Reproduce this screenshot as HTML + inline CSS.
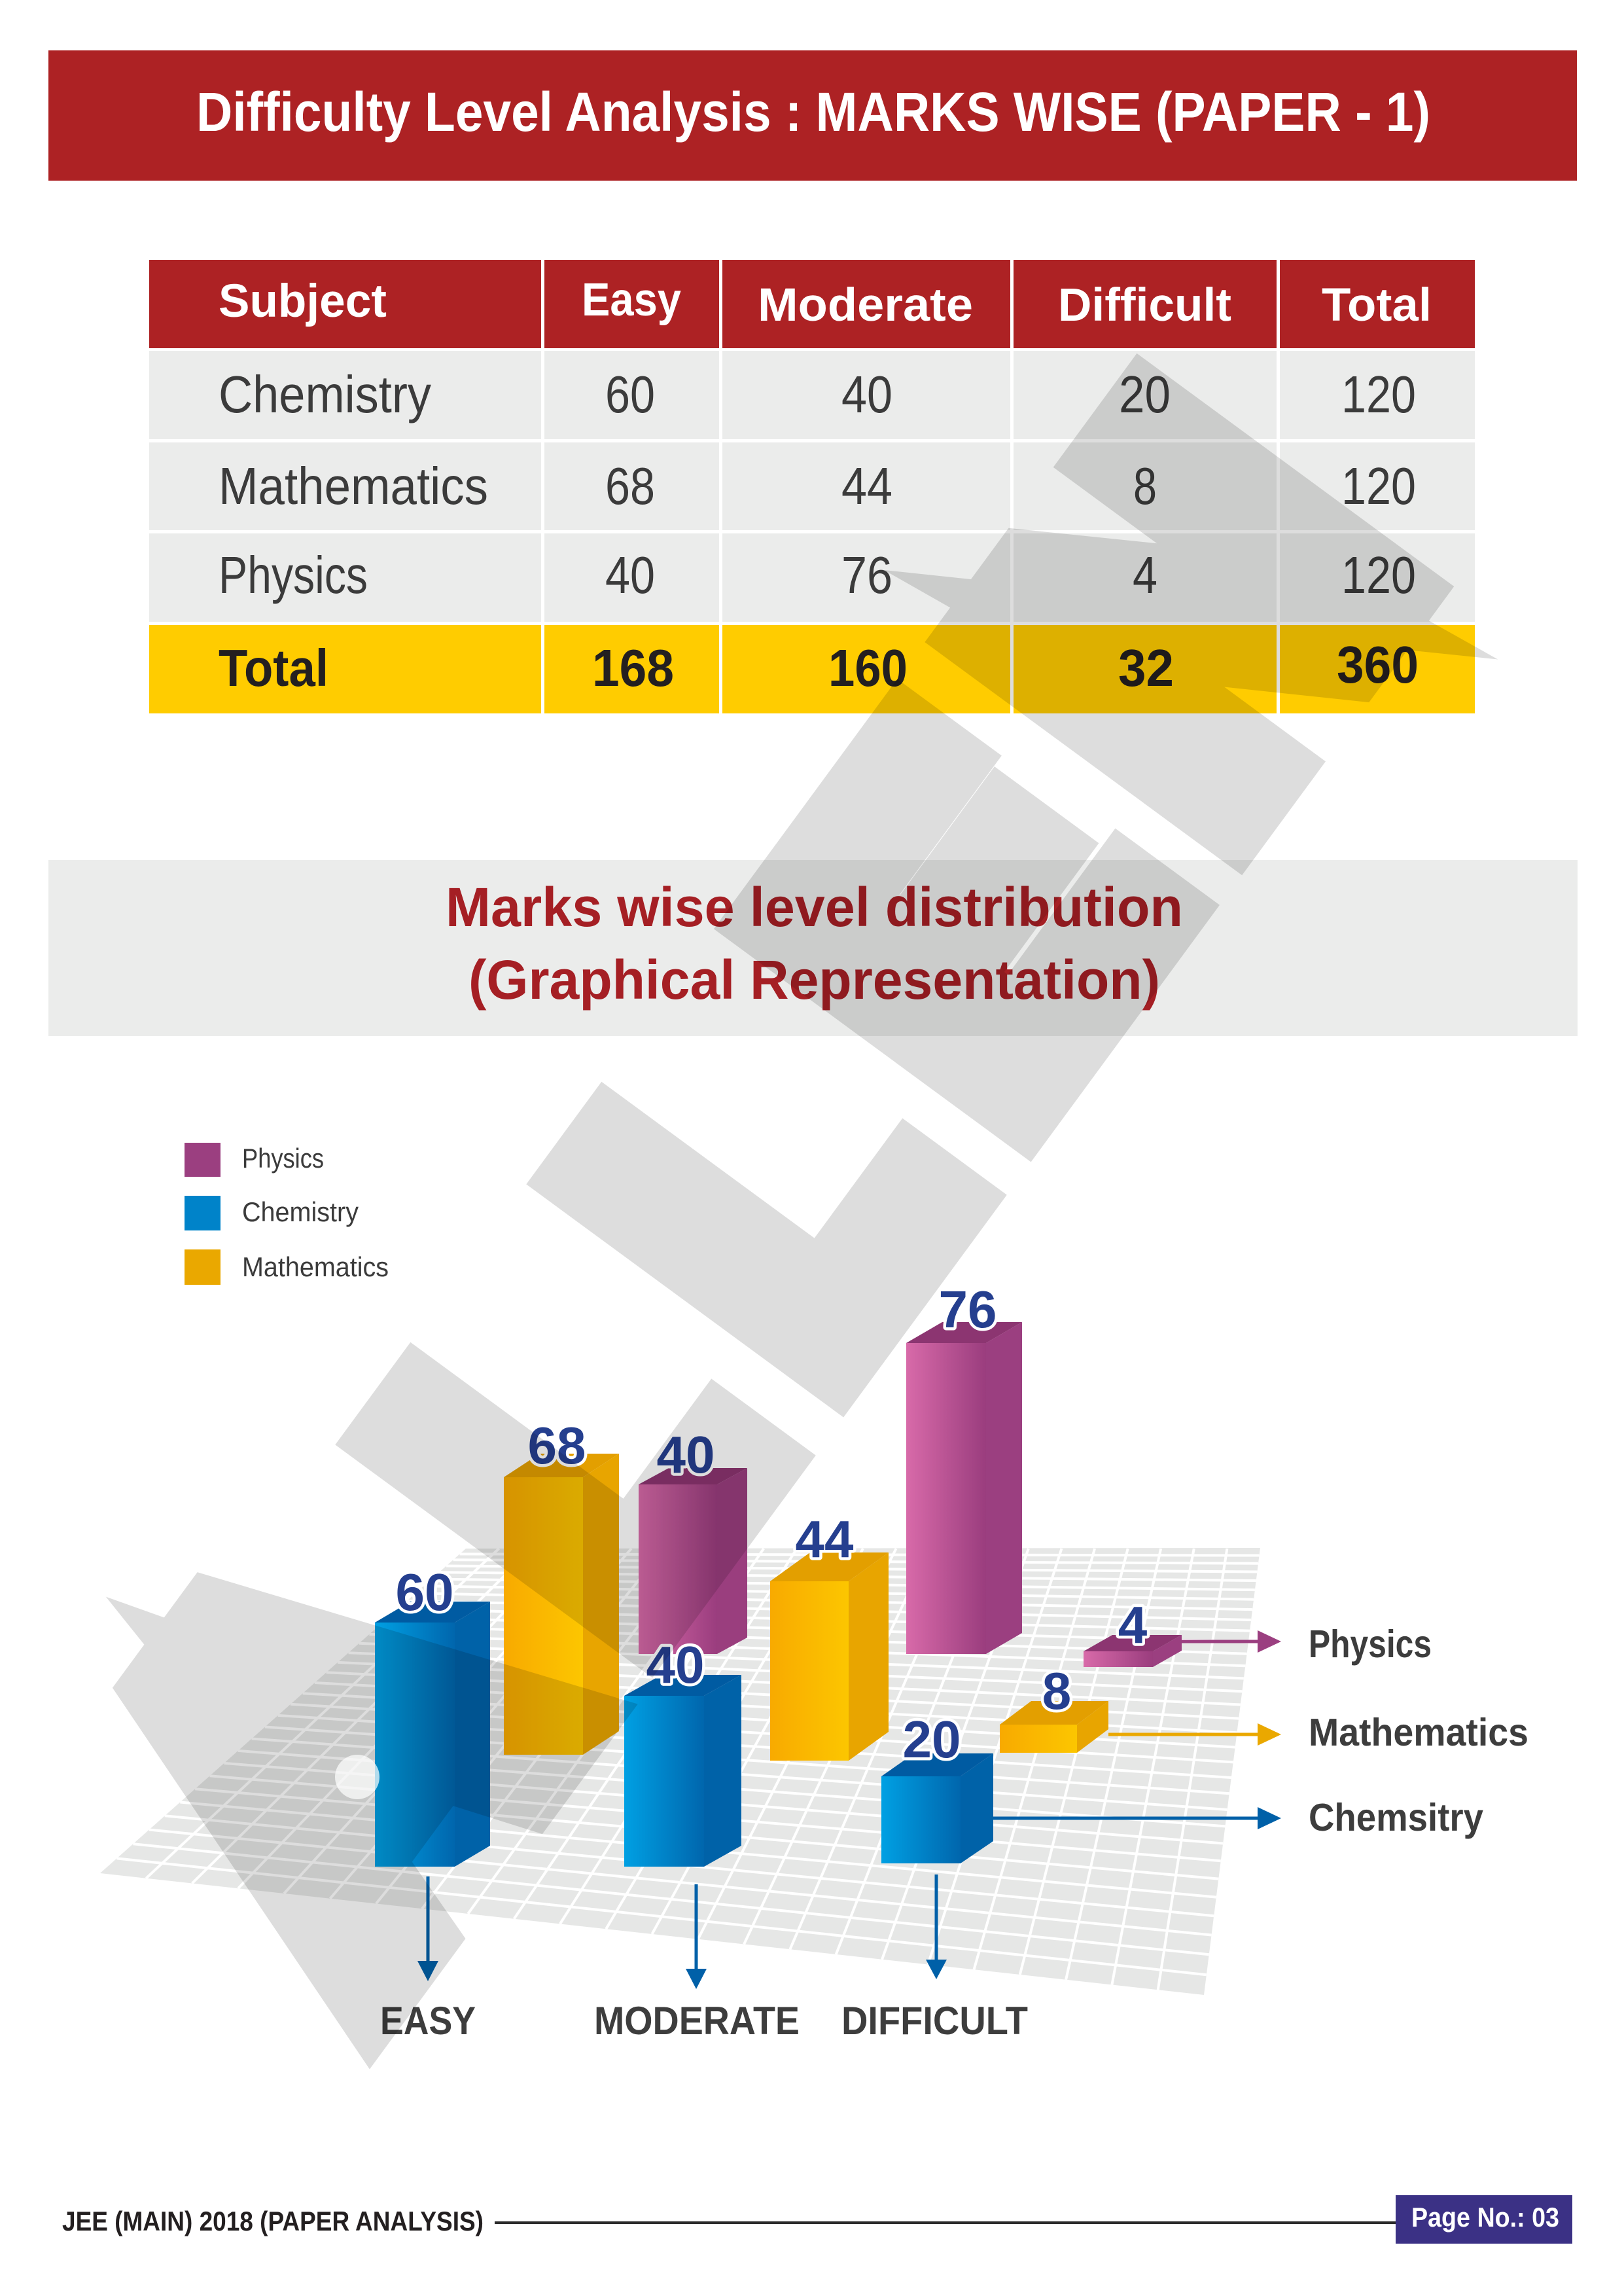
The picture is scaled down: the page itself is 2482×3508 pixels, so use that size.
<!DOCTYPE html>
<html><head><meta charset="utf-8"><style>
html,body{margin:0;padding:0;background:#fff;}
svg{display:block;}
text{font-family:"Liberation Sans",Arial,sans-serif;}
</style></head><body>
<svg width="2482" height="3508" viewBox="0 0 2482 3508" xmlns="http://www.w3.org/2000/svg">
<defs>
<linearGradient id="bF" x1="0" y1="0" x2="1" y2="0"><stop offset="0" stop-color="#00a0e3"/><stop offset="1" stop-color="#0066ad"/></linearGradient>
<linearGradient id="yF" x1="0" y1="0" x2="1" y2="0"><stop offset="0" stop-color="#f8aa00"/><stop offset="1" stop-color="#fcc600"/></linearGradient>
<linearGradient id="pF" x1="0" y1="0" x2="1" y2="0"><stop offset="0" stop-color="#d86aa9"/><stop offset="1" stop-color="#9a3d7e"/></linearGradient>
</defs>
<rect width="2482" height="3508" fill="#fff"/>

<!-- Title bar -->
<rect x="74" y="77" width="2336" height="199" fill="#ad2224"/>
<text x="300" y="200" font-size="84" font-weight="bold" fill="#fff" textLength="1886" lengthAdjust="spacingAndGlyphs">Difficulty Level Analysis :  MARKS WISE (PAPER - 1)</text>

<!-- Table -->
<rect x="228" y="397" width="2026" height="135" fill="#ad2224"/>
<rect x="228" y="536" width="2026" height="135" fill="#ebeceb"/>
<rect x="228" y="676" width="2026" height="134" fill="#ebeceb"/>
<rect x="228" y="815" width="2026" height="135" fill="#ebeceb"/>
<rect x="228" y="955" width="2026" height="135" fill="#ffcc00"/>
<g fill="#fff">
<rect x="827" y="397" width="5" height="693"/>
<rect x="1099" y="397" width="5" height="693"/>
<rect x="1544" y="397" width="5" height="693"/>
<rect x="1951" y="397" width="5" height="693"/>
</g>
<g font-size="71" font-weight="bold" fill="#fff">
<text x="334" y="484" textLength="257" lengthAdjust="spacingAndGlyphs">Subject</text>
<text x="889" y="482" textLength="152" lengthAdjust="spacingAndGlyphs">Easy</text>
<text x="1158" y="490" textLength="329" lengthAdjust="spacingAndGlyphs">Moderate</text>
<text x="1617" y="490" textLength="265" lengthAdjust="spacingAndGlyphs">Difficult</text>
<text x="2020" y="490" textLength="168" lengthAdjust="spacingAndGlyphs">Total</text>
</g>
<g font-size="80" fill="#3b3b3b">
<text x="334" y="630" textLength="325" lengthAdjust="spacingAndGlyphs">Chemistry</text>
<text x="925" y="630" textLength="76" lengthAdjust="spacingAndGlyphs">60</text>
<text x="1286" y="630" textLength="78" lengthAdjust="spacingAndGlyphs">40</text>
<text x="1710" y="630" textLength="79" lengthAdjust="spacingAndGlyphs">20</text>
<text x="2050" y="630" textLength="114" lengthAdjust="spacingAndGlyphs">120</text>

<text x="334" y="770" textLength="412" lengthAdjust="spacingAndGlyphs">Mathematics</text>
<text x="925" y="770" textLength="76" lengthAdjust="spacingAndGlyphs">68</text>
<text x="1286" y="770" textLength="78" lengthAdjust="spacingAndGlyphs">44</text>
<text x="1732" y="770" textLength="36" lengthAdjust="spacingAndGlyphs">8</text>
<text x="2050" y="770" textLength="114" lengthAdjust="spacingAndGlyphs">120</text>

<text x="334" y="906" textLength="228" lengthAdjust="spacingAndGlyphs">Physics</text>
<text x="925" y="906" textLength="76" lengthAdjust="spacingAndGlyphs">40</text>
<text x="1286" y="906" textLength="78" lengthAdjust="spacingAndGlyphs">76</text>
<text x="1731" y="906" textLength="38" lengthAdjust="spacingAndGlyphs">4</text>
<text x="2050" y="906" textLength="114" lengthAdjust="spacingAndGlyphs">120</text>
</g>
<g font-size="80" font-weight="bold" fill="#231f20">
<text x="334" y="1048" textLength="168" lengthAdjust="spacingAndGlyphs">Total</text>
<text x="905" y="1048" textLength="125" lengthAdjust="spacingAndGlyphs">168</text>
<text x="1266" y="1048" textLength="121" lengthAdjust="spacingAndGlyphs">160</text>
<text x="1709" y="1048" textLength="85" lengthAdjust="spacingAndGlyphs">32</text>
<text x="2043" y="1043" textLength="125" lengthAdjust="spacingAndGlyphs">360</text>
</g>

<!-- Chart title panel -->
<rect x="74" y="1314" width="2337" height="269" fill="#ebeceb"/>
<g font-size="84" font-weight="bold" fill="#a51f24">
<text x="681" y="1415" textLength="1127" lengthAdjust="spacingAndGlyphs">Marks wise level distribution</text>
<text x="716" y="1526" textLength="1057" lengthAdjust="spacingAndGlyphs">(Graphical Representation)</text>
</g>

<!-- Legend -->
<rect x="282" y="1746" width="55" height="52" fill="#9b3f80"/>
<rect x="282" y="1827" width="55" height="53" fill="#0083c9"/>
<rect x="282" y="1909" width="55" height="54" fill="#eaa800"/>
<g font-size="42" fill="#3b3b3b">
<text x="370" y="1784" textLength="125" lengthAdjust="spacingAndGlyphs">Physics</text>
<text x="370" y="1866" textLength="178" lengthAdjust="spacingAndGlyphs">Chemistry</text>
<text x="370" y="1950" textLength="224" lengthAdjust="spacingAndGlyphs">Mathematics</text>
</g>

<!-- Floor grid -->
<polygon points="712,2366 1926,2365 1840,3048 153,2862" fill="#e6e7e6"/>
<g stroke="#fff" stroke-width="4" fill="none">
<line x1="702.6" y1="2374.4" x2="1924.5" y2="2376.5"/>
<line x1="692.6" y1="2383.2" x2="1923" y2="2388.7"/>
<line x1="682.1" y1="2392.5" x2="1921.4" y2="2401.5"/>
<line x1="671.1" y1="2402.3" x2="1919.7" y2="2415"/>
<line x1="659.6" y1="2412.5" x2="1917.9" y2="2429.1"/>
<line x1="647.5" y1="2423.2" x2="1916.1" y2="2443.7"/>
<line x1="635" y1="2434.3" x2="1914.2" y2="2459.1"/>
<line x1="621.9" y1="2445.9" x2="1912.1" y2="2475"/>
<line x1="608.4" y1="2458" x2="1910.1" y2="2491.6"/>
<line x1="594.2" y1="2470.5" x2="1907.9" y2="2508.9"/>
<line x1="579.6" y1="2483.5" x2="1905.6" y2="2526.7"/>
<line x1="564.5" y1="2496.9" x2="1903.3" y2="2545.2"/>
<line x1="548.8" y1="2510.8" x2="1900.9" y2="2564.4"/>
<line x1="532.6" y1="2525.2" x2="1898.4" y2="2584.2"/>
<line x1="516" y1="2539.9" x2="1895.8" y2="2604.5"/>
<line x1="498.7" y1="2555.2" x2="1893.2" y2="2625.6"/>
<line x1="481" y1="2571" x2="1890.5" y2="2647.2"/>
<line x1="462.7" y1="2587.2" x2="1887.7" y2="2669.5"/>
<line x1="444" y1="2603.8" x2="1884.8" y2="2692.4"/>
<line x1="424.7" y1="2620.9" x2="1881.8" y2="2716"/>
<line x1="404.9" y1="2638.5" x2="1878.8" y2="2740.2"/>
<line x1="384.6" y1="2656.5" x2="1875.6" y2="2765"/>
<line x1="363.8" y1="2674.9" x2="1872.4" y2="2790.4"/>
<line x1="342.4" y1="2693.9" x2="1869.1" y2="2816.5"/>
<line x1="320.5" y1="2713.3" x2="1865.8" y2="2843.3"/>
<line x1="298.2" y1="2733.2" x2="1862.3" y2="2870.6"/>
<line x1="275.3" y1="2753.5" x2="1858.8" y2="2898.6"/>
<line x1="251.8" y1="2774.3" x2="1855.2" y2="2927.2"/>
<line x1="227.9" y1="2795.5" x2="1851.5" y2="2956.5"/>
<line x1="203.5" y1="2817.2" x2="1847.8" y2="2986.3"/>
<line x1="178.5" y1="2839.4" x2="1843.8" y2="3017.2"/>

<line x1="762.6" y1="2366" x2="223.3" y2="2869.8"/>
<line x1="813.2" y1="2366" x2="293.6" y2="2877.5"/>
<line x1="863.7" y1="2366" x2="363.9" y2="2885.3"/>
<line x1="914.3" y1="2366" x2="434.2" y2="2893"/>
<line x1="964.9" y1="2366" x2="504.5" y2="2900.8"/>
<line x1="1015.5" y1="2366" x2="574.8" y2="2908.5"/>
<line x1="1066.1" y1="2366" x2="645" y2="2916.3"/>
<line x1="1116.7" y1="2366" x2="715.3" y2="2924"/>
<line x1="1167.2" y1="2366" x2="785.6" y2="2931.8"/>
<line x1="1217.8" y1="2366" x2="855.9" y2="2939.5"/>
<line x1="1268.4" y1="2366" x2="926.2" y2="2947.3"/>
<line x1="1319" y1="2366" x2="996.5" y2="2955"/>
<line x1="1369.6" y1="2366" x2="1066.8" y2="2962.8"/>
<line x1="1420.2" y1="2366" x2="1137.1" y2="2970.5"/>
<line x1="1470.7" y1="2366" x2="1207.4" y2="2978.3"/>
<line x1="1521.3" y1="2366" x2="1277.7" y2="2986"/>
<line x1="1571.9" y1="2366" x2="1348" y2="2993.8"/>
<line x1="1622.5" y1="2366" x2="1418.3" y2="3001.5"/>
<line x1="1673.1" y1="2366" x2="1488.5" y2="3009.3"/>
<line x1="1723.7" y1="2366" x2="1558.8" y2="3017"/>
<line x1="1774.2" y1="2366" x2="1629.1" y2="3024.8"/>
<line x1="1824.8" y1="2366" x2="1699.4" y2="3032.5"/>
<line x1="1875.4" y1="2366" x2="1769.7" y2="3040.3"/>
</g>

<!-- Bars: Physics (back) -->
<!-- Purple 40 -->
<rect x="976" y="2268" width="120" height="259" fill="url(#pF)"/>
<polygon points="1096,2268 1142,2243 1142,2502 1096,2527" fill="#9a3e7e"/>
<polygon points="976,2268 1096,2268 1142,2243 1022,2243" fill="#8c3571"/>
<!-- Purple 76 -->
<rect x="1385" y="2052" width="122" height="475" fill="url(#pF)"/>
<polygon points="1507,2052 1562,2020 1562,2495 1507,2527" fill="#9b3f80"/>
<polygon points="1385,2052 1507,2052 1562,2020 1440,2020" fill="#8c3571"/>
<!-- Purple 4 -->
<rect x="1656" y="2523" width="106" height="24" fill="url(#pF)"/>
<polygon points="1762,2523 1806,2498 1806,2522 1762,2547" fill="#9b3f80"/>
<polygon points="1656,2523 1762,2523 1806,2498 1700,2498" fill="#8c3571"/>

<!-- Math (middle) -->
<!-- Yellow 68 -->
<rect x="770" y="2257" width="121" height="424" fill="url(#yF)"/>
<polygon points="891,2257 946,2221 946,2645 891,2681" fill="#e8a500"/>
<polygon points="770,2257 891,2257 946,2221 825,2221" fill="#e39f00"/>
<!-- Yellow 44 -->
<rect x="1177" y="2416" width="120" height="274" fill="url(#yF)"/>
<polygon points="1297,2416 1358,2372 1358,2646 1297,2690" fill="#e8a500"/>
<polygon points="1177,2416 1297,2416 1358,2372 1238,2372" fill="#e39f00"/>
<!-- Yellow 8 -->
<rect x="1528" y="2635" width="118" height="43" fill="url(#yF)"/>
<polygon points="1646,2635 1694,2599 1694,2642 1646,2678" fill="#e8a500"/>
<polygon points="1528,2635 1646,2635 1694,2599 1576,2599" fill="#e39f00"/>

<!-- Chemistry (front) -->
<!-- Blue 60 -->
<rect x="573" y="2479" width="122" height="373" fill="url(#bF)"/>
<polygon points="695,2479 749,2447 749,2820 695,2852" fill="#0062a8"/>
<polygon points="573,2479 695,2479 749,2447 627,2447" fill="#005ba2"/>
<!-- Blue 40 -->
<rect x="954" y="2591" width="122" height="261" fill="url(#bF)"/>
<polygon points="1076,2591 1133,2559 1133,2820 1076,2852" fill="#0062a8"/>
<polygon points="954,2591 1076,2591 1133,2559 1011,2559" fill="#005ba2"/>
<!-- Blue 20 -->
<rect x="1347" y="2714" width="121" height="133" fill="url(#bF)"/>
<polygon points="1468,2714 1518,2679 1518,2813 1468,2847" fill="#0062a8"/>
<polygon points="1347,2714 1468,2714 1518,2679 1397,2679" fill="#005ba2"/>

<!-- Right arrows -->
<line x1="1806" y1="2508" x2="1926" y2="2508" stroke="#9b3f80" stroke-width="5"/>
<polygon points="1922,2491 1958,2508 1922,2525" fill="#9b3f80"/>
<line x1="1694" y1="2650" x2="1926" y2="2650" stroke="#eaa800" stroke-width="5"/>
<polygon points="1922,2633 1958,2650 1922,2667" fill="#eaa800"/>
<line x1="1518" y1="2778" x2="1926" y2="2778" stroke="#0060a8" stroke-width="5"/>
<polygon points="1922,2761 1958,2778 1922,2795" fill="#0060a8"/>
<g font-size="59" font-weight="bold" fill="#3d3d3d">
<text x="2000" y="2532" textLength="188" lengthAdjust="spacingAndGlyphs">Physics</text>
<text x="2000" y="2667" textLength="336" lengthAdjust="spacingAndGlyphs">Mathematics</text>
<text x="2000" y="2797" textLength="267" lengthAdjust="spacingAndGlyphs">Chemsitry</text>
</g>

<!-- Down arrows -->
<g stroke="#0060a8" stroke-width="5">
<line x1="654" y1="2867" x2="654" y2="3000"/>
<line x1="1064" y1="2879" x2="1064" y2="3012"/>
<line x1="1431" y1="2864" x2="1431" y2="2998"/>
</g>
<g fill="#0060a8">
<polygon points="638,2996 670,2996 654,3027"/>
<polygon points="1048,3008 1080,3008 1064,3039"/>
<polygon points="1415,2994 1447,2994 1431,3024"/>
</g>
<g font-size="60" font-weight="bold" fill="#3d3d3d">
<text x="581" y="3108" textLength="146" lengthAdjust="spacingAndGlyphs">EASY</text>
<text x="908" y="3108" textLength="314" lengthAdjust="spacingAndGlyphs">MODERATE</text>
<text x="1286" y="3108" textLength="285" lengthAdjust="spacingAndGlyphs">DIFFICULT</text>
</g>

<!-- Bar value labels -->
<g font-size="80" font-weight="bold" fill="#253f8f" stroke="#fff" stroke-width="9" stroke-linejoin="round" paint-order="stroke" text-anchor="middle">
<text x="649" y="2460">60</text>
<text x="851" y="2236">68</text>
<text x="1048" y="2250">40</text>
<text x="1032" y="2571">40</text>
<text x="1260" y="2379">44</text>
<text x="1479" y="2028">76</text>
<text x="1424" y="2685">20</text>
<text x="1615" y="2611">8</text>
<text x="1731" y="2510">4</text>
</g>

<!-- Footer -->
<text x="95" y="3408" font-size="42" font-weight="bold" fill="#231f20" textLength="644" lengthAdjust="spacingAndGlyphs">JEE (MAIN) 2018 (PAPER ANALYSIS)</text>
<rect x="756" y="3394" width="1380" height="4" fill="#2b2b2b"/>
<rect x="2133" y="3354" width="270" height="74" fill="#3b3185"/>
<text x="2157" y="3402" font-size="42" font-weight="bold" fill="#fff" textLength="226" lengthAdjust="spacingAndGlyphs">Page No.: 03</text>

<!-- Watermark -->
<g opacity="0.135" fill="#000" stroke="#000" stroke-width="120" stroke-linejoin="miter" stroke-miterlimit="8" font-size="700" font-weight="bold" text-anchor="middle">
<text transform="translate(717,2843) rotate(-53.7) scale(1.08,1.1)">A</text>
<text transform="translate(1067,2367) rotate(-53.7) scale(0.88,1)">L</text>
<text transform="translate(1359,1969) rotate(-53.7) scale(0.88,1)">L</text>
<text transform="translate(1666,1551) rotate(-53.7) scale(0.95,1)">E</text>
<text transform="translate(2012,1081) rotate(-53.7) scale(1.03,1)">N</text>
</g>
<circle cx="546" cy="2715" r="34" fill="#fff" opacity="0.7"/>
</svg>
</body></html>
